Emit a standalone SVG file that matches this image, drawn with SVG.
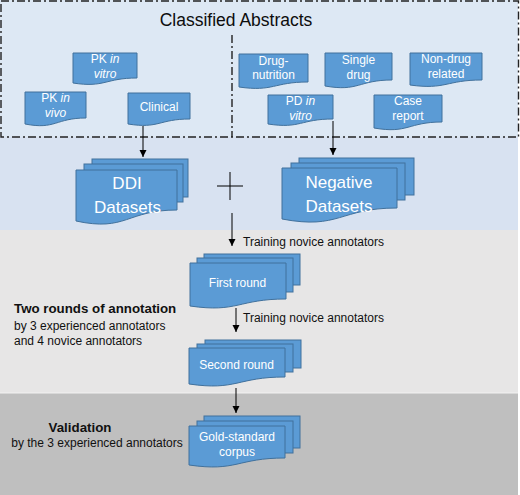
<svg xmlns="http://www.w3.org/2000/svg" width="520" height="495" viewBox="0 0 520 495">
<defs>
<marker id="ah" markerWidth="8" markerHeight="8" refX="7" refY="4" orient="auto" markerUnits="userSpaceOnUse">
<path d="M0,0.5 L7,4 L0,7.5 Z" fill="#000"/>
</marker>
<style>
.doc{fill:#5b9bd5;stroke:#41719c;stroke-width:1}
.t{font-family:"Liberation Sans",Arial,sans-serif;fill:#ffffff;text-anchor:middle}
.s12{font-size:12px}
.big{font-size:17px}
.lbl{font-family:"Liberation Sans",Arial,sans-serif;fill:#111;font-size:12px}
.bold{font-weight:bold;font-size:13.3px}
.dd{fill:none;stroke:#222;stroke-width:1.4;stroke-dasharray:8 3 2 3}
.con{stroke:#000;stroke-width:1;fill:none}
</style>
</defs>
<rect x="0" y="0" width="520" height="495" fill="#ffffff"/>
<rect x="0" y="0" width="518" height="137" fill="#dde8f4"/>
<rect x="0" y="137" width="518" height="93" fill="#d8e2f1"/>
<rect x="0" y="230" width="518" height="163" fill="#e7e6e6"/>
<rect x="0" y="393" width="518" height="102" fill="#bfbfbf"/>
<line x1="0" y1="393" x2="518" y2="393" stroke="#f2f2f2" stroke-width="1"/>
<rect class="dd" x="1" y="1" width="517.5" height="136"/>
<line class="dd" x1="232" y1="35" x2="232" y2="137"/>
<text x="236" y="26" font-family="Liberation Sans,Arial,sans-serif" font-size="17.5" fill="#0d0d0d" text-anchor="middle">Classified Abstracts</text>

<g id="pk-in-vitro">
<path class="doc" d="M73,53 H137 V78 C105,78 105,88 73,83 Z"/>
<text class="t s12" x="105" y="63">PK <tspan font-style="italic">in</tspan></text>
<text class="t s12" x="105" y="78" font-style="italic">vitro</text>
</g>
<g id="pk-in-vivo">
<path class="doc" d="M25,92 H86 V118 C55.5,118 55.5,130 25,124 Z"/>
<text class="t s12" x="55.5" y="102">PK <tspan font-style="italic">in</tspan></text>
<text class="t s12" x="55.5" y="117" font-style="italic">vivo</text>
</g>
<g id="clinical">
<path class="doc" d="M128,93 H190 V119 C159,119 159,129 128,124 Z"/>
<text class="t s12" x="159" y="111">Clinical</text>
</g>
<g id="drug-nutrition">
<path class="doc" d="M239,54 H308 V82 C273.5,82 273.5,92 239,87 Z"/>
<text class="t s12" x="273.5" y="65">Drug-</text>
<text class="t s12" x="273.5" y="79">nutrition</text>
</g>
<g id="single-drug">
<path class="doc" d="M325,53 H392 V80 C358.5,80 358.5,92 325,86 Z"/>
<text class="t s12" x="358.5" y="64">Single</text>
<text class="t s12" x="358.5" y="79">drug</text>
</g>
<g id="non-drug">
<path class="doc" d="M410,53 H482 V80 C446,80 446,90 410,85 Z"/>
<text class="t s12" x="446" y="63">Non-drug</text>
<text class="t s12" x="446" y="78">related</text>
</g>
<g id="pd-in-vitro">
<path class="doc" d="M268,95 H333 V119 C300.5,119 300.5,129 268,124 Z"/>
<text class="t s12" x="300.5" y="105">PD <tspan font-style="italic">in</tspan></text>
<text class="t s12" x="300.5" y="120" font-style="italic">vitro</text>
</g>
<g id="case-report">
<path class="doc" d="M374,95 H442 V122 C408,122 408,134 374,128 Z"/>
<text class="t s12" x="408" y="105">Case</text>
<text class="t s12" x="408" y="120">report</text>
</g>

<g id="ddi-datasets">
<rect class="doc" x="92" y="159" width="96" height="38"/>
<rect class="doc" x="84" y="164" width="99" height="38"/>
<path class="doc" d="M76,170 H177 V210 C126.5,210 126.5,232 76,221 Z"/>
<text class="t big" x="127" y="189">DDI</text>
<text class="t big" x="127.5" y="213">Datasets</text>
</g>
<g id="negative-datasets">
<rect class="doc" x="299" y="158" width="115" height="37"/>
<rect class="doc" x="291" y="163" width="114" height="37"/>
<path class="doc" d="M282,168 H397 V208 C339.5,208 339.5,230 282,219 Z"/>
<text class="t big" x="339" y="188">Negative</text>
<text class="t big" x="339" y="212">Datasets</text>
</g>
<g id="plus">
<line x1="217" y1="186" x2="243" y2="186" stroke="#000" stroke-width="1"/>
<line x1="230" y1="172" x2="230" y2="200" stroke="#000" stroke-width="1"/>
</g>

<g id="first-round">
<rect class="doc" x="204" y="254" width="96" height="31"/>
<rect class="doc" x="197" y="258" width="96" height="34"/>
<path class="doc" d="M190,263 H286 V299 C238,299 238,313 190,306 Z"/>
<text class="t s12" x="237.5" y="287">First round</text>
</g>
<g id="second-round">
<rect class="doc" x="205" y="340" width="96" height="28"/>
<rect class="doc" x="197" y="344" width="96" height="28"/>
<path class="doc" d="M189,348 H285 V377 C237,377 237,391 189,384 Z"/>
<text class="t s12" x="236.5" y="369">Second round</text>
</g>
<g id="gold-standard">
<rect class="doc" x="204" y="416" width="96" height="32"/>
<rect class="doc" x="197" y="421" width="96" height="32"/>
<path class="doc" d="M189,426 H285 V458 C237,458 237,472 189,465 Z"/>
<text class="t s12" x="237" y="441">Gold-standard</text>
<text class="t s12" x="237" y="456">corpus</text>
</g>

<g id="labels">
<text class="lbl" x="243" y="246" font-size="11.8">Training novice annotators</text>
<text class="lbl" x="243" y="322" font-size="11.8">Training novice annotators</text>
<text class="lbl bold" x="14" y="313">Two rounds of annotation</text>
<text class="lbl" x="14" y="330">by 3 experienced annotators</text>
<text class="lbl" x="14" y="345">and 4 novice annotators</text>
<text class="lbl bold" x="80" y="432" text-anchor="middle">Validation</text>
<text class="lbl" x="97" y="447" text-anchor="middle">by the 3 experienced annotators</text>
</g>

<g id="connectors">
<line class="con" x1="143" y1="126" x2="143" y2="157" marker-end="url(#ah)"/>
<line class="con" x1="333" y1="121" x2="333" y2="155" marker-end="url(#ah)"/>
<line class="con" x1="232" y1="213" x2="232" y2="246" marker-end="url(#ah)"/>
<line class="con" x1="236" y1="308" x2="236" y2="332" marker-end="url(#ah)"/>
<line class="con" x1="236" y1="388" x2="236" y2="413" marker-end="url(#ah)"/>
</g>
</svg>
